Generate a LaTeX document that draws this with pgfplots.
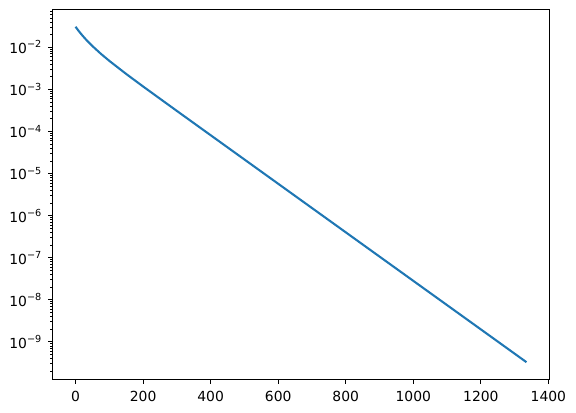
\documentclass[border=0pt]{standalone}
\usepackage{fontspec}
\setmainfont{DejaVu Sans}
\usepackage{pgfplots}
\pgfplotsset{compat=1.18}
\definecolor{mplblue}{HTML}{1F77B4}
\newcommand{\tp}[1]{10\raisebox{0.42em}{\fontsize{9.7bp}{10bp}\selectfont −#1}}
\begin{document}
\fontsize{13.9bp}{16bp}\selectfont
\begin{tikzpicture}
\useasboundingbox (-53bp,-34bp) rectangle (523bp,379bp);
\begin{axis}[
  at={(0,0)}, anchor=south west,
  scale only axis, width=496bp, height=369bp,
  ymode=log,
  xmin=-66.75, xmax=1401.75,
  ymin=1.31e-10, ymax=7.74e-2,
  xtick={0,200,400,600,800,1000,1200,1400},
  ytick={1e-9,1e-8,1e-7,1e-6,1e-5,1e-4,1e-3,1e-2},
  yticklabels={\tp{9},\tp{8},\tp{7},\tp{6},\tp{5},\tp{4},\tp{3},\tp{2}},
  minor ytick={2e-10,3e-10,4e-10,5e-10,6e-10,7e-10,8e-10,9e-10,
    2e-9,3e-9,4e-9,5e-9,6e-9,7e-9,8e-9,9e-9,
    2e-8,3e-8,4e-8,5e-8,6e-8,7e-8,8e-8,9e-8,
    2e-7,3e-7,4e-7,5e-7,6e-7,7e-7,8e-7,9e-7,
    2e-6,3e-6,4e-6,5e-6,6e-6,7e-6,8e-6,9e-6,
    2e-5,3e-5,4e-5,5e-5,6e-5,7e-5,8e-5,9e-5,
    2e-4,3e-4,4e-4,5e-4,6e-4,7e-4,8e-4,9e-4,
    2e-3,3e-3,4e-3,5e-3,6e-3,7e-3,8e-3,9e-3,
    2e-2,3e-2,4e-2,5e-2,6e-2,7e-2},
  xticklabel style={/pgf/number format/1000 sep={}},
  /pgf/number format/assume math mode=true,
  tick align=outside,
  xtick pos=lower, ytick pos=left,
  major tick length=4.86bp, minor tick length=2.78bp,
  every tick/.style={black, line width=1.11bp},
  minor tick style={black, line width=0.83bp},
  axis line style={line width=1.0bp},
  tick label style={font=\fontsize{13.9bp}{16bp}\selectfont},
  xticklabel shift=2bp, yticklabel shift=2bp,
]
\addplot[mplblue, line width=2.08bp, line join=round] coordinates {
(0,3.09e-2) (10,2.417e-2) (20,1.930e-2) (30,1.567e-2) (40,1.290e-2)
(50,1.073e-2) (75,7.04e-3) (100,4.78e-3) (150,2.333e-3) (200,1.177e-3)
(300,3.088e-4) (400,8.17e-5) (600,5.73e-6) (800,4.02e-7) (1000,2.82e-8)
(1200,1.98e-9) (1335,3.29e-10)
};
\end{axis}
\end{tikzpicture}
\end{document}
